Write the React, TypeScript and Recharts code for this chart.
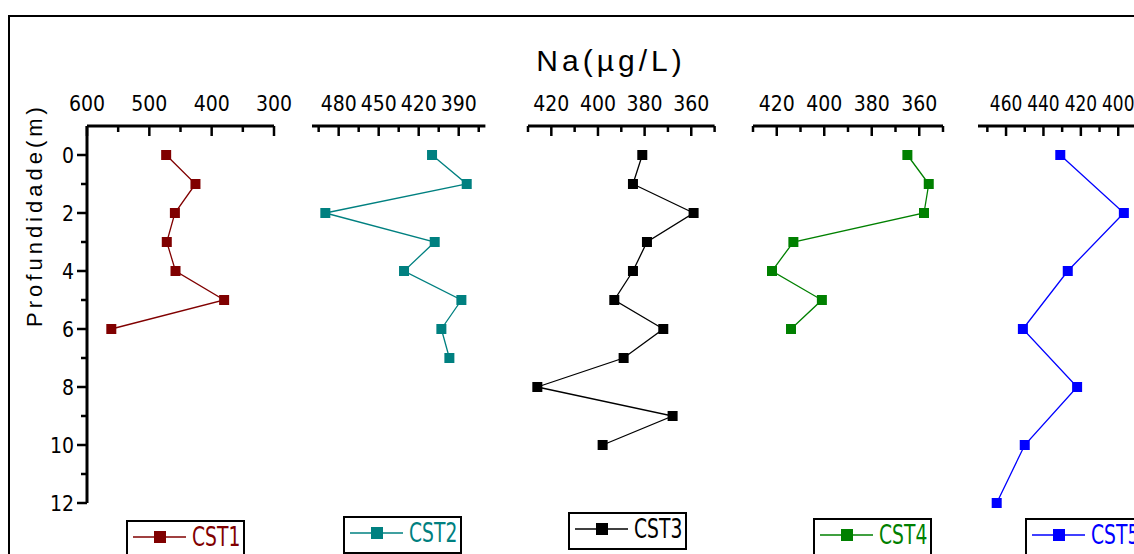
import React from "react";
import { LineChart, Line, XAxis, YAxis } from "recharts";

// depth (m) and Na (µg/L)
const cst1Depth = [0, 1, 2, 3, 4, 5, 6];
const cst1Na = [473, 426, 459, 472, 458, 380, 561];

const cst2Depth = [0, 1, 2, 3, 4, 5, 6, 7];
const cst2Na = [410, 384, 490, 408, 431, 388, 403, 397];

const cst3Depth = [0, 1, 2, 3, 4, 5, 6, 7, 8, 9, 10];
const cst3Na = [381, 385, 359, 379, 385, 393, 372, 389, 426, 368, 398];

const cst4Depth = [0, 1, 2, 3, 4, 5, 6];
const cst4Na = [365, 356, 358, 413, 422, 401, 414];

const cst5Depth = [0, 2, 4, 6, 8, 10, 12];
const cst5Na = [431, 397, 427, 451, 422, 450, 465];

const depthTicks = [0, 2, 4, 6, 8, 10, 12];
const depthMinorTicks = [1, 3, 5, 7, 9, 11];

const cst1Ticks = [600, 500, 400, 300];
const cst1Minor = [550, 450, 350];
const cst2Ticks = [480, 450, 420, 390];
const cst2Minor = [495, 465, 435, 405, 375];
const cst3Ticks = [420, 400, 380, 360];
const cst3Minor = [430, 410, 390, 370, 350];
const cst4Ticks = [420, 400, 380, 360];
const cst4Minor = [430, 410, 390, 370, 350];
const cst5Ticks = [460, 440, 420, 400];
const cst5Minor = [470, 450, 430, 410, 390];

const NARROW = '"Liberation Sans Narrow", "Arial Narrow", "DejaVu Sans Condensed", sans-serif';
const SANS = '"Liberation Sans", Arial, sans-serif';

const PLOT_TOP = 126;
const PLOT_BOTTOM = 503;
const PAGE_H = 554;

const panels = [
  { name: "CST1", color: "#800000", depth: cst1Depth, values: cst1Na, domain: [300, 600], ticks: cst1Ticks, minor: cst1Minor, left: 87, right: 274, squeeze: 1, legend: { x: 126, y: 520 } },
  { name: "CST2", color: "#008080", depth: cst2Depth, values: cst2Na, domain: [370, 500], ticks: cst2Ticks, minor: cst2Minor, left: 311.6, right: 485, squeeze: 1, legend: { x: 343, y: 516 } },
  { name: "CST3", color: "#000000", depth: cst3Depth, values: cst3Na, domain: [350, 430], ticks: cst3Ticks, minor: cst3Minor, left: 527.7, right: 714.3, squeeze: 1, legend: { x: 568, y: 512 } },
  { name: "CST4", color: "#008000", depth: cst4Depth, values: cst4Na, domain: [350, 430], ticks: cst4Ticks, minor: cst4Minor, left: 753, right: 943, squeeze: 1, legend: { x: 813, y: 518 } },
  { name: "CST5", color: "#0000ff", depth: cst5Depth, values: cst5Na, domain: [375, 475], ticks: cst5Ticks, minor: cst5Minor, left: 978, right: 1165, squeeze: 0.9, legend: { x: 1025, y: 518 } },
];

function TopTick(props: any, majors: number[], squeeze: number) {
  const { x, y, payload } = props;
  const major = majors.includes(payload.value);
  return (
    <g>
      <line x1={x} x2={x} y1={y} y2={y + (major ? 10 : 6)} stroke="#000" strokeWidth={2.5} />
      {major && (
        <text
          x={0}
          y={0}
          transform={`translate(${x} ${y - 15}) scale(${squeeze} 1)`}
          textAnchor="middle"
          fontFamily={NARROW}
          fontSize={21}
          fill="#000"
        >
          {payload.value}
        </text>
      )}
    </g>
  );
}

function LeftTick(props: any) {
  const { x, y, payload } = props;
  const major = depthTicks.includes(payload.value);
  return (
    <g>
      <line x1={x - (major ? 10 : 6)} x2={x} y1={y} y2={y} stroke="#000" strokeWidth={2.5} />
      {major && (
        <text x={x - 13} y={y} dy="0.36em" textAnchor="end" fontFamily={NARROW} fontSize={21} fill="#000">
          {payload.value}
        </text>
      )}
    </g>
  );
}

function Panel({ p, first }: { p: (typeof panels)[number]; first: boolean }) {
  const padL = 100;
  const padR = 40;
  const data = p.depth.map((d, i) => ({ depth: d, value: p.values[i] }));
  const allTicks = [...p.ticks, ...p.minor].sort((a, b) => a - b);
  // axes need a 1px band to be drawn at all
  const marginLeft = first ? padL - 1 : padL;
  const width = p.right - p.left + padL + padR;
  return (
    <div style={{ position: "absolute", left: p.left - padL, top: 0 }}>
      <LineChart
        width={width}
        height={PAGE_H}
        data={data}
        layout="vertical"
        margin={{ top: PLOT_TOP - 1, bottom: PAGE_H - PLOT_BOTTOM, left: marginLeft, right: padR }}
      >
        <XAxis
          type="number"
          dataKey="value"
          orientation="top"
          reversed
          domain={p.domain}
          ticks={allTicks}
          interval={0}
          height={1}
          tickSize={0}
          tickMargin={0}
          tickLine={false}
          axisLine={{ stroke: "#000", strokeWidth: 3 }}
          tick={(tp: any) => TopTick(tp, p.ticks, p.squeeze)}
        />
        <YAxis
          type="number"
          dataKey="depth"
          domain={[-1, 12]}
          ticks={[...depthTicks, ...depthMinorTicks].sort((a, b) => a - b)}
          interval={0}
          width={1}
          tickSize={0}
          tickMargin={0}
          tickLine={false}
          hide={!first}
          axisLine={{ stroke: "#000", strokeWidth: 3 }}
          tick={LeftTick}
        />
        <Line
          dataKey="value"
          stroke={p.color}
          strokeWidth={1.3}
          isAnimationActive={false}
          dot={(dp: any) => (
            <rect key={`dot-${dp.index}`} x={dp.cx - 5} y={dp.cy - 5} width={10} height={10} fill={p.color} />
          )}
        />
      </LineChart>
    </div>
  );
}

function LegendBox({ p }: { p: (typeof panels)[number] }) {
  return (
    <div
      style={{
        position: "absolute",
        left: p.legend.x,
        top: p.legend.y,
        width: 115,
        height: 29,
        paddingTop: 5,
        border: "2px solid #000",
        background: "#fff",
        display: "flex",
        alignItems: "flex-start",
        overflow: "hidden",
      }}
    >
      <svg width={53} height={20} style={{ marginLeft: 5, flexShrink: 0 }}>
        <line x1={0} x2={53} y1={10} y2={10} stroke={p.color} strokeWidth={1.5} />
        <rect x={21} y={4} width={12} height={12} fill={p.color} />
      </svg>
      <span
        style={{
          fontFamily: NARROW,
          fontSize: 26,
          color: p.color,
          display: "inline-block",
          flexShrink: 0,
          whiteSpace: "nowrap",
          marginLeft: 6,
          transform: "scaleX(0.8)",
          transformOrigin: "left center",
          lineHeight: "20px",
          height: 20,
        }}
      >
        {p.name}
      </span>
    </div>
  );
}

export default function App() {
  return (
    <div
      style={{
        position: "fixed",
        left: 0,
        top: 0,
        width: 1134,
        height: PAGE_H,
        overflow: "hidden",
        background: "#fff",
      }}
    >
      <div
        style={{
          position: "absolute",
          left: 8,
          top: 15,
          width: 1200,
          height: 600,
          border: "2px solid #000",
        }}
      />
      {panels.map((p, i) => (
        <Panel key={p.name} p={p} first={i === 0} />
      ))}
      <svg width={1134} height={PAGE_H} style={{ position: "absolute", left: 0, top: 0, pointerEvents: "none" }}>
        <text x={611} y={71} textAnchor="middle" fontFamily={SANS} fontSize={30} letterSpacing={4} fill="#000">
          Na(µg/L)
        </text>
        <text
          x={0}
          y={0}
          transform="translate(42 215) rotate(-90)"
          textAnchor="middle"
          fontFamily={SANS}
          fontSize={22}
          letterSpacing={4}
          fill="#000"
        >
          Profundidade(m)
        </text>
      </svg>
      {panels.map((p) => (
        <LegendBox key={p.name} p={p} />
      ))}
    </div>
  );
}
